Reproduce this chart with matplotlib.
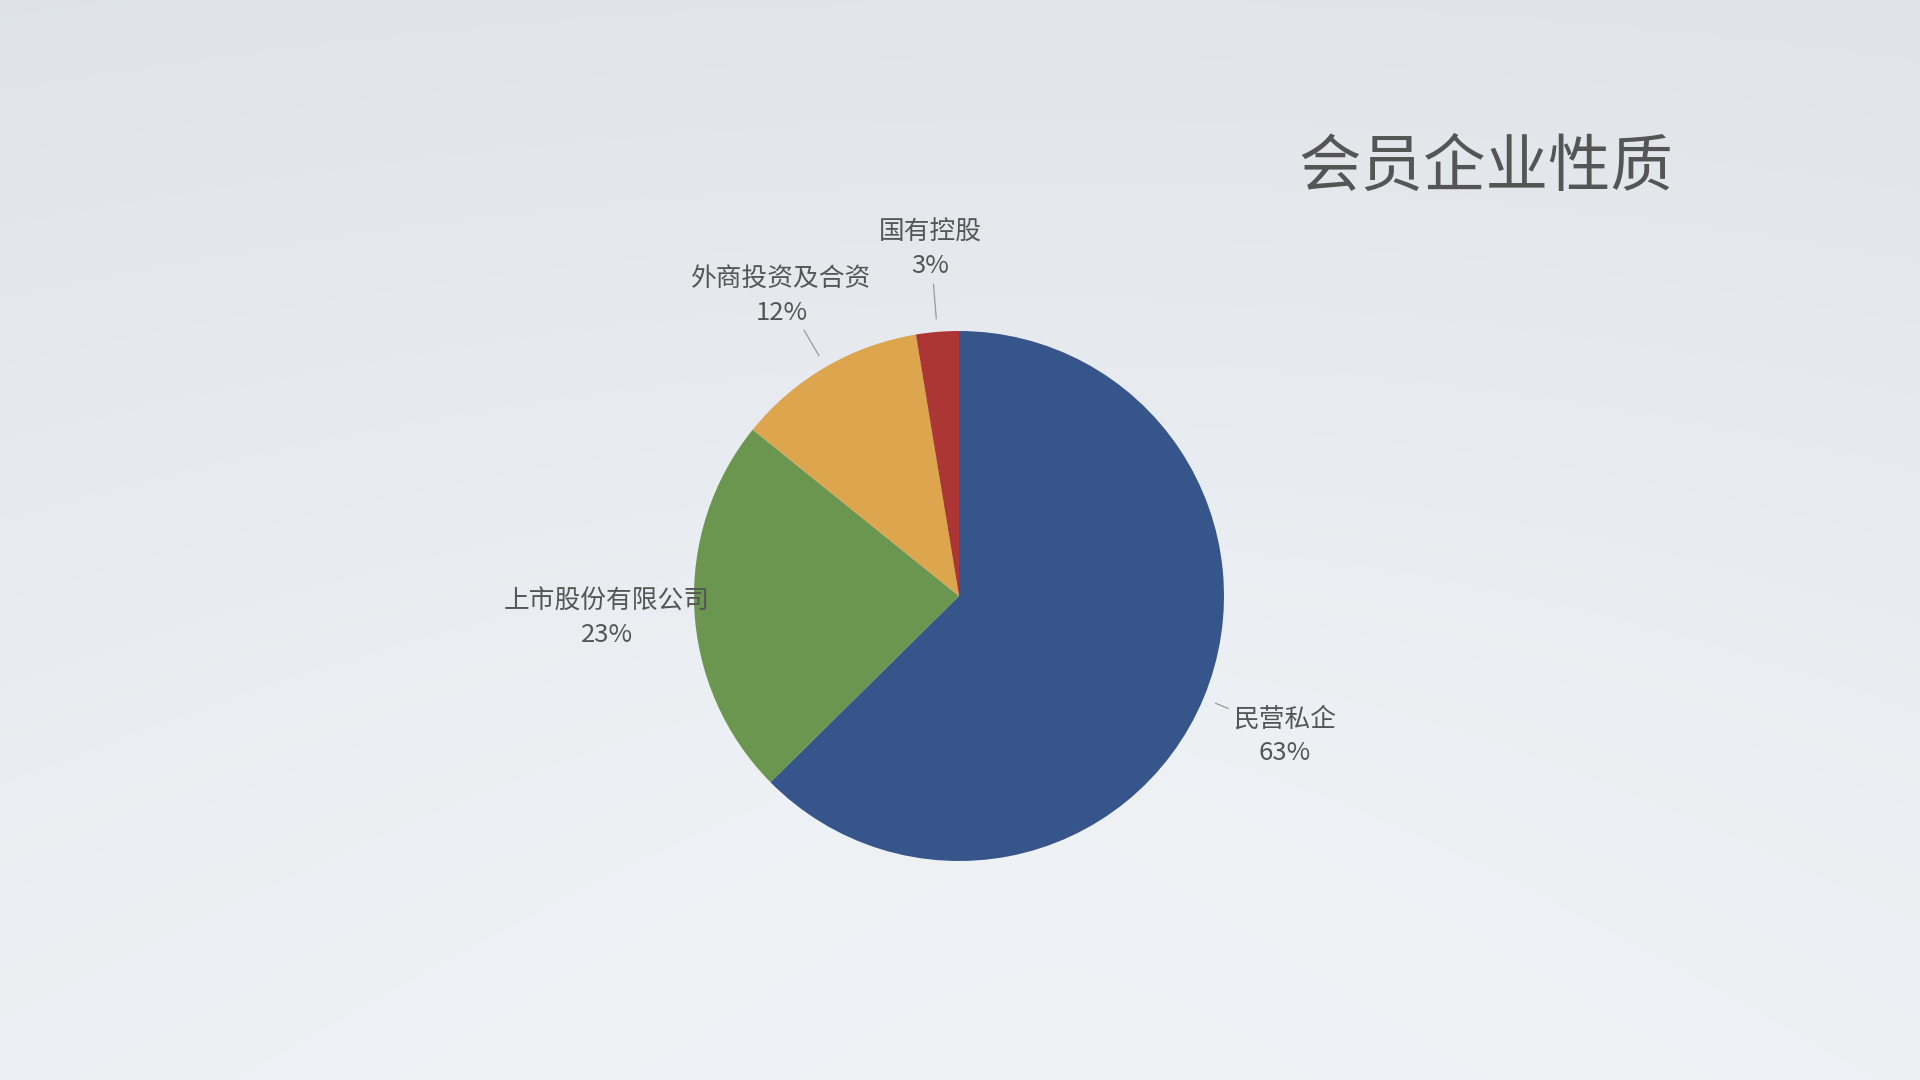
import numpy as np
import matplotlib.pyplot as plt

plt.rcParams['font.family'] = ['Noto Sans CJK SC', 'DejaVu Sans']

# data
categories = ['民营私企', '上市股份有限公司', '外商投资及合资', '国有控股']
shares = [62.6, 23.2, 11.6, 2.6]
pct_labels = ['63%', '23%', '12%', '3%']
colors = ['#36558a', '#6a964f', '#dea54f', '#ab3634']
title = '会员企业性质'

W, H = 1920, 1080
fig = plt.figure(figsize=(19.2, 10.8), dpi=100)

# soft grey-blue background, darker at top and in the corners
yy, xx = np.mgrid[0:1:540j, 0:1:960j]
r = np.sqrt((xx - 0.55) ** 2 + (yy - 0.75) ** 2)
shade = np.clip(0.6 * yy + 0.4 * (1 - r / 0.9), 0, 1)
top = np.array([0.878, 0.894, 0.914])
bot = np.array([0.945, 0.957, 0.969])
bg = top[None, None, :] + (bot - top)[None, None, :] * shade[..., None]
bgax = fig.add_axes([0, 0, 1, 1])
bgax.imshow(bg, extent=[0, 1, 0, 1], aspect='auto', origin='upper',
            interpolation='bilinear')
bgax.axis('off')

ax = fig.add_axes([0, 0, 1, 1])
ax.patch.set_alpha(0)
cx, cy, R = 959, H - 596, 265
wedges, _ = ax.pie(shares, colors=colors, startangle=90, counterclock=False,
                   center=(cx, cy), radius=R, wedgeprops=dict(linewidth=0))
ax.set_xlim(0, W)
ax.set_ylim(0, H)
ax.set_aspect('auto')
ax.axis('off')

line_end = [1.10, None, 1.16, 1.18]
for w, name, pct, le in zip(wedges, categories, pct_labels, line_end):
    ang = np.deg2rad((w.theta1 + w.theta2) / 2)
    ux, uy = np.cos(ang), np.sin(ang)
    lx, ly = cx + 1.33 * R * ux, cy + 1.33 * R * uy
    ax.text(lx, ly + 12, name, ha='center', va='center', fontsize=18.5, color='#555555')
    ax.text(lx, ly - 21, pct, ha='center', va='center', fontsize=18.5, color='#555555')
    if le is not None:
        ax.plot([cx + 1.05 * R * ux, cx + le * R * ux],
                [cy + 1.05 * R * uy, cy + le * R * uy],
                color='#9a9a9a', lw=0.9)

fig.text(1486 / W, 1 - 168 / H, title, ha='center', va='center',
         fontsize=45, color='#555555')

fig.savefig('out.png', dpi=100)
